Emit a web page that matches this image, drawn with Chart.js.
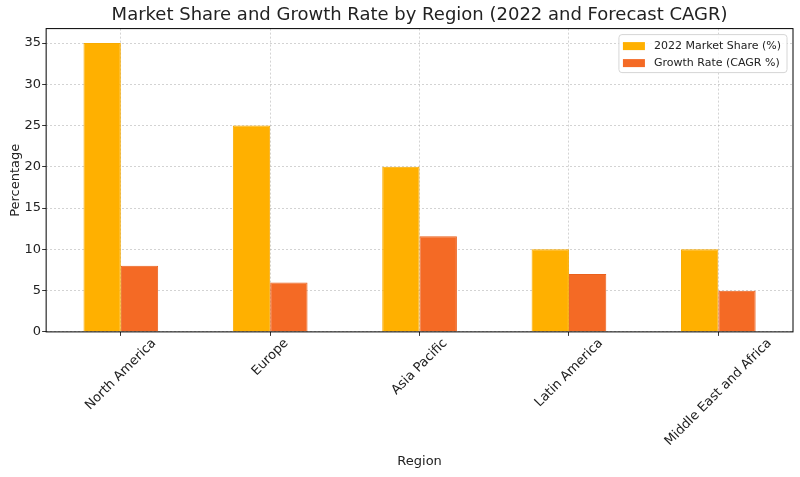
<!DOCTYPE html>
<html>
<head>
<meta charset="utf-8">
<script src="https://cdn.jsdelivr.net/npm/chart.js@4.4.0/dist/chart.umd.min.js"></script>
<style>
  html, body { margin: 0; padding: 0; background: #fff; }
  #wrap { width: 800px; height: 477px; }
</style>
</head>
<body>
<div id="wrap"><canvas id="chart"></canvas></div>
<script>
const regions = ['North America', 'Europe', 'Asia Pacific', 'Latin America', 'Middle East and Africa'];
const marketShare = [35, 25, 20, 10, 10];
const growthRate = [8, 6, 11.6, 7, 5];
const yTicks = [0, 5, 10, 15, 20, 25, 30, 35];

const shareColor = '#ffb000';
const growthColor = '#f46a25';
const fontFamily = '"DejaVu Sans", sans-serif';
const textColor = '#222';

// 枠線（matplotlib風に四辺）
const framePlugin = {
    id: 'frame',
    afterDraw(chart) {
        const { ctx, chartArea } = chart;
        ctx.save();
        ctx.strokeStyle = '#000';
        ctx.lineWidth = 1;
        ctx.strokeRect(chartArea.left, chartArea.top, chartArea.right - chartArea.left, chartArea.bottom - chartArea.top);
        ctx.restore();
    }
};

// x軸ラベル: 45度回転、目盛り中央揃え
const centeredXLabels = {
    id: 'centeredXLabels',
    afterDraw(chart) {
        const { ctx, chartArea } = chart;
        const xScale = chart.scales.x;
        ctx.save();
        ctx.font = '13px ' + fontFamily;
        ctx.fillStyle = textColor;
        ctx.textAlign = 'center';
        ctx.textBaseline = 'middle';
        const top = chartArea.bottom + 4;
        const h = 15;
        xScale.ticks.forEach((t, i) => {
            const label = regions[i];
            const w = ctx.measureText(label).width;
            const half = (w + h) * Math.SQRT1_2 / 2;
            const cx = xScale.getPixelForTick(i);
            const cy = top + half;
            ctx.save();
            ctx.translate(cx, cy);
            ctx.rotate(-Math.PI / 4);
            ctx.fillText(label, 0, 0);
            ctx.restore();
        });
        ctx.restore();
    }
};

// 凡例をプロット内右上に描く
const innerLegend = {
    id: 'innerLegend',
    afterDraw(chart) {
        const { ctx, chartArea } = chart;
        const items = chart.data.datasets;
        ctx.save();
        ctx.font = '11px ' + fontFamily;
        let maxW = 0;
        items.forEach(d => { maxW = Math.max(maxW, ctx.measureText(d.label).width); });
        const boxW = 22, boxH = 8, rowH = 17;
        const w = 4 + boxW + 9 + maxW + 6;
        const h = 3 + rowH * items.length + 1;
        const x = chartArea.right - w - 6;
        const y = chartArea.top + 6;
        ctx.fillStyle = 'rgba(255,255,255,0.85)';
        ctx.strokeStyle = '#d6d6d6';
        ctx.lineWidth = 1;
        ctx.beginPath();
        ctx.roundRect(x, y, w, h, 3);
        ctx.fill();
        ctx.stroke();
        items.forEach((d, i) => {
            const cy = y + 3 + rowH * i + rowH / 2;
            ctx.fillStyle = d.backgroundColor;
            ctx.fillRect(x + 4, cy - boxH / 2, boxW, boxH);
            ctx.fillStyle = textColor;
            ctx.textBaseline = 'middle';
            ctx.fillText(d.label, x + 4 + boxW + 9, cy);
        });
        ctx.restore();
    }
};

const config = {
    type: 'bar',
    data: {
        labels: regions,
        datasets: [
            {
                label: '2022 Market Share (%)',
                data: marketShare,
                backgroundColor: shareColor,
                borderColor: '#f8ab00',
                borderWidth: 1,
                categoryPercentage: 0.5,
                barPercentage: 1.0
            },
            {
                label: 'Growth Rate (CAGR %)',
                data: growthRate,
                backgroundColor: growthColor,
                borderColor: '#ea601c',
                borderWidth: 1,
                categoryPercentage: 0.5,
                barPercentage: 1.0
            }
        ]
    },
    options: {
        responsive: true,
        maintainAspectRatio: false,
        animation: false,
        layout: { padding: { left: 8, right: 7, top: 0, bottom: 8 } },
        plugins: {
            legend: { display: false },
            tooltip: { enabled: false },
            title: {
                display: true,
                fullSize: false,
                text: 'Market Share and Growth Rate by Region (2022 and Forecast CAGR)',
                color: textColor,
                font: { family: fontFamily, size: 18, weight: 'normal' },
                padding: { top: 5, bottom: 2 }
            }
        },
        scales: {
            x: {
                grid: {
                    offset: false,
                    color: 'rgba(176,176,176,0.7)',
                    lineWidth: 0.8,
                    tickLength: 4,
                    tickColor: '#000'
                },
                border: { display: false, dash: [2, 2] },
                ticks: {
                    color: 'rgba(0,0,0,0)',
                    font: { family: fontFamily, size: 13 },
                    maxRotation: 45,
                    minRotation: 45,
                    padding: 2
                },
                title: {
                    display: true,
                    text: 'Region',
                    color: textColor,
                    font: { family: fontFamily, size: 13 },
                    padding: { top: 0, bottom: 0 }
                }
            },
            y: {
                min: 0,
                max: 36.75,
                afterBuildTicks(axis) {
                    axis.ticks = yTicks.map(v => ({ value: v }));
                },
                grid: {
                    color: 'rgba(176,176,176,0.7)',
                    lineWidth: 0.8,
                    tickLength: 4,
                    tickColor: '#000'
                },
                border: { display: false, dash: [2, 2] },
                ticks: {
                    color: textColor,
                    font: { family: fontFamily, size: 13 },
                    padding: 1
                },
                title: {
                    display: true,
                    text: 'Percentage',
                    color: textColor,
                    font: { family: fontFamily, size: 13 },
                    padding: { top: 0, bottom: 0 }
                }
            }
        }
    },
    plugins: [framePlugin, centeredXLabels, innerLegend]
};

new Chart(document.getElementById('chart'), config);
</script>
</body>
</html>
